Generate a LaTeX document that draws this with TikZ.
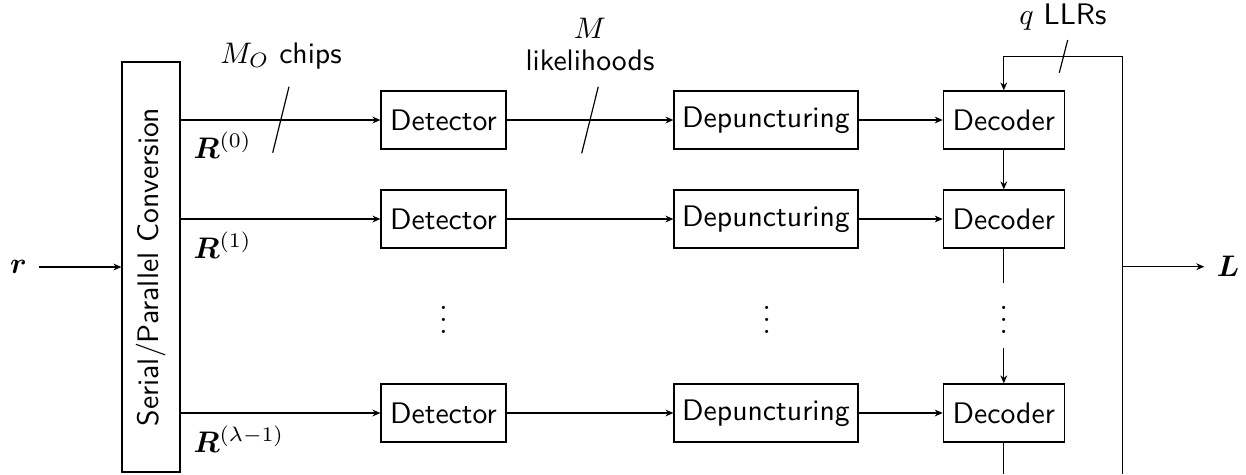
\documentclass[tikz,border=0pt]{standalone}
\usepackage{bm}
\usepackage{graphicx}
\usetikzlibrary{arrows.meta}
\begin{document}
\begin{tikzpicture}[x=0.3365pt,y=-0.3365pt,
  blk/.style={draw, font=\sffamily, minimum height=19.52pt, inner sep=0pt},
  arr/.style={-{Stealth[length=2.7pt,width=2.3pt]}},
  lbl/.style={font=\sffamily, inner sep=0pt},
  rl/.style={anchor=west, inner sep=0pt}]
\useasboundingbox (0,0) rectangle (1246,474);
% serial/parallel
\node[draw, minimum width=19.52pt, minimum height=137.97pt, inner sep=0pt] (sp) at (151,267)
  {\rotatebox{90}{\sffamily Serial/Parallel Conversion}};
% rows
\foreach \i/\y in {0/120,1/219,2/413}{
  \node[blk, minimum width=42.06pt] (det\i) at (443.5,\y) {Detector};
  \node[blk, minimum width=61.9pt] (dep\i) at (766,\y) {Depuncturing};
  \node[blk, minimum width=40.7pt] (dec\i) at (1003.8,\y) {Decoder};
  \draw[arr] (sp.east |- det\i.west) -- (det\i.west);
  \draw[arr] (det\i) -- (dep\i);
  \draw[arr] (dep\i) -- (dec\i);
}
\node[rl] (r0) at (193,145) {$\bm{R}^{(0)}$};
\node[rl] (r1) at (193,245) {$\bm{R}^{(1)}$};
\node[rl] (r2) at (193,439) {$\bm{R}^{(\lambda-1)}$};
% dots
\node (v0) at (443.5,311) {$\vdots$};
\node (v1) at (766.7,311) {$\vdots$};
\node (v2) at (1003.8,311) {$\vdots$};
% decoder chain
\draw[arr] (dec0) -- (dec1);
\coordinate (c1) at (1003.8,283);
\coordinate (c2) at (1003.8,348);
\coordinate (cb) at (1003.8,474);
\draw (dec1) -- (c1);
\draw[arr] (c2) -- (dec2);
\draw (dec2) -- (cb);
% feedback
\coordinate (fbb) at (1122.7,474);
\coordinate (fbt) at (1122.7,56.7);
\draw[arr] (fbb) -- (fbt) -- (dec0.north |- fbt) -- (dec0.north);
% output
\coordinate (o) at (1122.7,266.7);
\node[inner sep=4pt] (L) at (1228,266.7) {$\bm{L}$};
\draw[arr] (o) -- (L);
% input
\node[inner sep=4pt] (r) at (18.5,267) {$\bm{r}$};
\draw[arr] (r) -- (sp);
% slashes
\draw (289,86.7) -- (272.7,152.7);
\draw (598.3,86.7) -- (581.7,153.3);
\draw (1067.7,40) -- (1059.3,72.7);
% labels
\node[lbl] (l0) at (281,56) {$M_O$ chips};
\node[lbl] (l1) at (590,28) {$M$};
\node[lbl] (l2) at (590,60) {likelihoods};
\node[lbl] (l3) at (1063,17) {$q$ LLRs};
\end{tikzpicture}
\end{document}
